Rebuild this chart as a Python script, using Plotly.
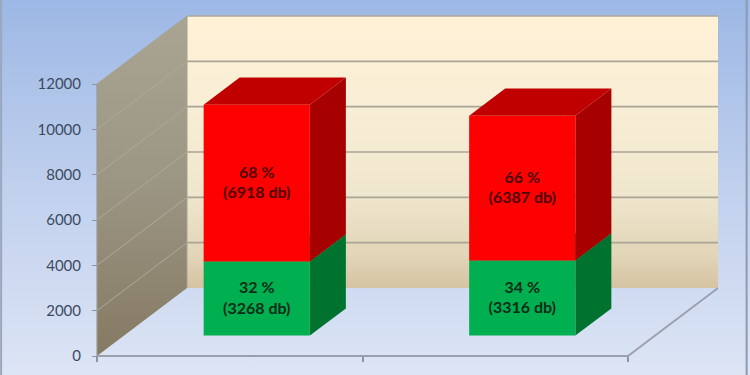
import plotly.graph_objects as go

categories = ["A", "B"]
green_values = [3268, 3316]
red_values = [6918, 6387]
green_pct = [32, 34]
red_pct = [68, 66]
y_ticks = [0, 2000, 4000, 6000, 8000, 10000, 12000]

W, H = 750, 375
X0_PX, Y0_PX = 97, 356
PX_PER_CAT = 265.5
UNITS_PER_PX = 12000 / 272
DX = 90 / PX_PER_CAT   # depth offset in x units
DV = 68 * UNITS_PER_PX  # depth offset in value units
Z0, Z1 = 0.30, 0.70
BAR_W = 0.40

X_RANGE = [-X0_PX / PX_PER_CAT, (W - X0_PX) / PX_PER_CAT]
Y_RANGE = [-(H - Y0_PX) * UNITS_PER_PX, Y0_PX * UNITS_PER_PX]
YMAX = y_ticks[-1]
NC = len(categories)


def proj(x, z, v):
    return x + z * DX, v + z * DV


def poly(points, color=None, grad=None):
    xs, ys = zip(*[proj(*p) for p in points])
    kw = dict(x=list(xs) + [xs[0]], y=list(ys) + [ys[0]], mode="lines", fill="toself",
              line=dict(width=0), hoverinfo="skip", showlegend=False)
    if grad:
        kw["fillgradient"] = grad
    else:
        kw["fillcolor"] = color
    return go.Scatter(**kw)


def line(points, color, width):
    xs, ys = zip(*[proj(*p) for p in points])
    return go.Scatter(x=xs, y=ys, mode="lines", line=dict(color=color, width=width),
                      hoverinfo="skip", showlegend=False)


fig = go.Figure()

# slide background
fig.add_trace(go.Scatter(
    x=[X_RANGE[0], X_RANGE[1], X_RANGE[1], X_RANGE[0], X_RANGE[0]],
    y=[Y_RANGE[0], Y_RANGE[0], Y_RANGE[1], Y_RANGE[1], Y_RANGE[0]],
    mode="lines", fill="toself", line=dict(width=0), hoverinfo="skip", showlegend=False,
    fillgradient=dict(type="vertical", colorscale=[[0, "#dde5f5"], [0.5, "#c0d0ed"], [1, "#9db8e5"]]),
))

# walls
fig.add_trace(poly([(0, 1, 0), (NC, 1, 0), (NC, 1, YMAX), (0, 1, YMAX)],
                   grad=dict(type="vertical", colorscale=[[0, "#d5c3a2"], [0.12, "#e2d5b8"], [0.35, "#efe7cd"],
                                                          [0.65, "#f8eed5"], [1, "#fff1d6"]])))
fig.add_trace(poly([(0, 0, 0), (0, 1, 0), (0, 1, YMAX), (0, 0, YMAX)],
                   grad=dict(type="vertical", colorscale=[[0, "#857a63"], [0.5, "#9b9583"], [1, "#aaa592"]])))

# gridlines
for t in y_ticks[1:]:
    fig.add_trace(line([(0, 0, t), (0, 1, t)], "#aeaa9a" if t < YMAX else "#a5a294", 1))
    fig.add_trace(line([(0, 1, t), (NC, 1, t)], "#a9a698", 1.6))
fig.add_trace(line([(0, 1, YMAX), (0, 1, 0)], "#a5a294", 1))
# floor edges
fig.add_trace(line([(0, 0, 0), (0, 0, YMAX)], "#9a9a94", 1.2))
fig.add_trace(line([(0, 0, 0), (NC, 0, 0), (NC, 1, 0)], "#9a9fae", 1.8))

# bars
for i in range(NC):
    xl = i + 0.5 - BAR_W / 2
    xr = i + 0.5 + BAR_W / 2
    base = 0
    for value, front, side, top in (
        (green_values[i], "#00b050", "#00722f", "#00833b"),
        (red_values[i], "#ff0000", "#a60000", "#c00000"),
    ):
        end = base + value
        fig.add_trace(poly([(xr, Z0, base), (xr, Z1, base), (xr, Z1, end), (xr, Z0, end)], side))
        fig.add_trace(poly([(xl, Z0, end), (xr, Z0, end), (xr, Z1, end), (xl, Z1, end)], top))
        fig.add_trace(poly([(xl, Z0, base), (xr, Z0, base), (xr, Z0, end), (xl, Z0, end)], front))
        base = end

# data labels
bx = [i + 0.5 + Z0 * DX for i in range(NC)]
fig.add_trace(go.Scatter(
    x=bx, y=[g / 2 + Z0 * DV - 40 for g in green_values], mode="text",
    text=[f"{p} %<br>({v} db)" for p, v in zip(green_pct, green_values)],
    textposition="middle center", hoverinfo="skip", showlegend=False,
    textfont=dict(family="Lato", size=16, color="#0b2c17", weight="bold"),
))
fig.add_trace(go.Scatter(
    x=bx, y=[g + r / 2 + Z0 * DV - 40 for g, r in zip(green_values, red_values)], mode="text",
    text=[f"{p} %<br>({v} db)" for p, v in zip(red_pct, red_values)],
    textposition="middle center", hoverinfo="skip", showlegend=False,
    textfont=dict(family="Lato", size=16, color="#4d0404", weight="bold"),
))

fig.update_layout(
    width=W, height=H, margin=dict(l=0, r=0, t=0, b=0, pad=0),
    paper_bgcolor="#bccdec", plot_bgcolor="rgba(0,0,0,0)", showlegend=False,
    xaxis=dict(range=X_RANGE, domain=[0, 1], anchor="free", position=(H - Y0_PX) / H,
               tickmode="array", tickvals=list(range(NC + 1)), showticklabels=False,
               ticks="outside", ticklen=5, tickwidth=1.5, tickcolor="#8f939f",
               showgrid=False, zeroline=False, showline=False, fixedrange=True),
    yaxis=dict(range=Y_RANGE, domain=[0, 1], anchor="free", position=X0_PX / W,
               tickmode="array", tickvals=y_ticks, ticktext=[str(t) for t in y_ticks],
               ticks="outside", ticklen=5, tickwidth=1, tickcolor="#8f939f", ticklabelstandoff=8,
               tickfont=dict(family="Lato", size=15, color="#3c4a60"),
               showgrid=False, zeroline=False, showline=False, fixedrange=True),
    shapes=[
        dict(type="line", xref="paper", yref="paper", x0=0.0015, x1=0.0015, y0=0, y1=1,
             line=dict(color="#9aa6bd", width=2)),
        dict(type="line", xref="paper", yref="paper", x0=0.9955, x1=0.9955, y0=0, y1=1,
             line=dict(color="#8e9ab2", width=2)),
    ],
)

fig.write_html("out.html", config=dict(displayModeBar=False),
               post_script="document.body.style.margin='0';document.documentElement.style.overflow='hidden';")
